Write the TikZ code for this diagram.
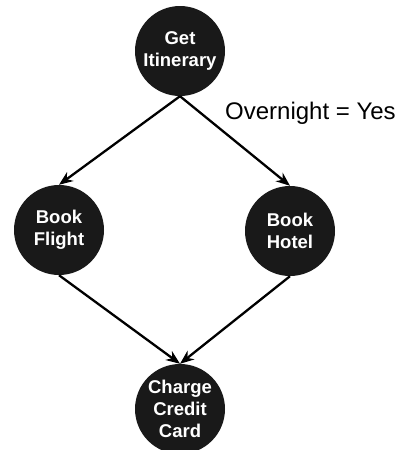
\documentclass[tikz,border=0pt]{standalone}
\usepackage{fontspec}
\setmainfont{Liberation Sans}
\usetikzlibrary{arrows.meta}
\begin{document}
\begin{tikzpicture}[x=1pt,y=-1pt,
  task/.style={circle,fill=black!90,minimum size=90pt,inner sep=0pt,
    text=white,font=\fontsize{18.5}{22}\selectfont\bfseries,align=center},
  flow/.style={line width=2.3pt,-{Stealth[length=14pt,width=11pt,inset=4.5pt]}}]
  \useasboundingbox (0,0) rectangle (403,450);
  \begin{scope}
    \clip (0,0) rectangle (403,450);
    \node[task] (get)    at (180,51)  {Get\\Itinerary};
    \node[task] (flight) at (59,230)  {Book\\Flight};
    \node[task] (hotel)  at (290,231) {Book\\Hotel};
    \node[task] (charge) at (180,409) {Charge\\Credit\\Card};
  \end{scope}
  \draw[flow] (get.south) -- (flight.north);
  \draw[flow] (get.south) -- (hotel.north);
  \draw[flow] (flight.south) -- (charge.north);
  \draw[flow] (hotel.south) -- (charge.north);
  \node[anchor=base west,font=\fontsize{24}{28}\selectfont,inner sep=0pt] (cond) at (225,119) {Overnight = Yes};
\end{tikzpicture}
\end{document}
